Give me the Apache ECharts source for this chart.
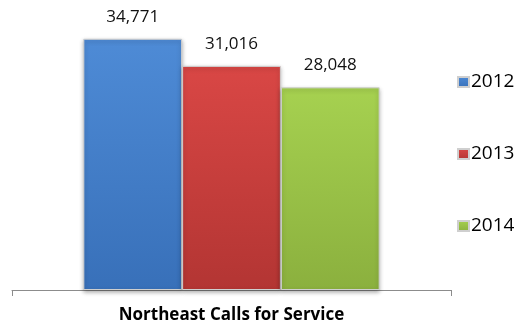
<!DOCTYPE html>
<html>
<head>
<meta charset="utf-8">
<script src="https://cdn.jsdelivr.net/npm/echarts@6/dist/echarts.min.js"></script>
<style>html,body{margin:0;padding:0;background:#fff;}#c{width:527px;height:333px;}</style>
</head>
<body>
<div id="c"></div>
<script>
const categories = ['Northeast Calls for Service'];
const seriesNames = ['2012', '2013', '2014'];
const values2012 = [34771];
const values2013 = [31016];
const values2014 = [28048];

const allValues = [values2012, values2013, values2014];
const gradients = [
  ['#4e8bd6', '#3870b9'],
  ['#d94745', '#b33533'],
  ['#a6d150', '#8bb03e']
];
const legendColors = ['#3f7cc8', '#c84240', '#9bc24a'];
const font = "'Open Sans', 'Liberation Sans', sans-serif";

const chart = echarts.init(document.getElementById('c'), null, {renderer: 'canvas'});
chart.setOption({
  animation: false,
  backgroundColor: '#fff',
  grid: {left: 12, right: 76, top: 1, bottom: 43, containLabel: false},
  legend: {
    orient: 'vertical',
    left: 452,
    top: 67,
    itemWidth: 11,
    itemHeight: 10,
    itemGap: 52,
    icon: 'rect',
    data: seriesNames,
    textStyle: {color: '#000', fontSize: 19, fontFamily: font, lineHeight: 20, padding: [0, 0, 0, -3]}
  },
  xAxis: {
    type: 'category',
    data: categories,
    axisLine: {lineStyle: {color: '#8c8c8c', width: 1}},
    axisTick: {show: true, length: 6, lineStyle: {color: '#8c8c8c'}},
    axisLabel: {color: '#000', fontSize: 17, fontWeight: 'bold', fontFamily: font, lineHeight: 20, margin: 15}
  },
  yAxis: {
    type: 'value', min: 0, max: 40000, show: false,
    splitLine: {show: false}
  },
  series: seriesNames.map((name, i) => ({
    name: name,
    type: 'bar',
    data: allValues[i],
    barGap: '0%',
    barCategoryGap: '32.5%',
    color: legendColors[i],
    itemStyle: {
      color: new echarts.graphic.LinearGradient(0, 0, 0, 1, [
        {offset: 0, color: gradients[i][0]},
        {offset: 1, color: gradients[i][1]}
      ]),
      borderColor: '#cfcfcf',
      borderWidth: 1,
      shadowColor: 'rgba(0,0,0,0.3)',
      shadowBlur: 4,
      shadowOffsetY: 2
    },
    label: {
      show: true,
      position: 'top',
      distance: 12,
      color: '#111',
      fontSize: 17,
      lineHeight: 20,
      fontFamily: font,
      formatter: p => p.value.toLocaleString('en-US')
    }
  }))
});
</script>
</body>
</html>
